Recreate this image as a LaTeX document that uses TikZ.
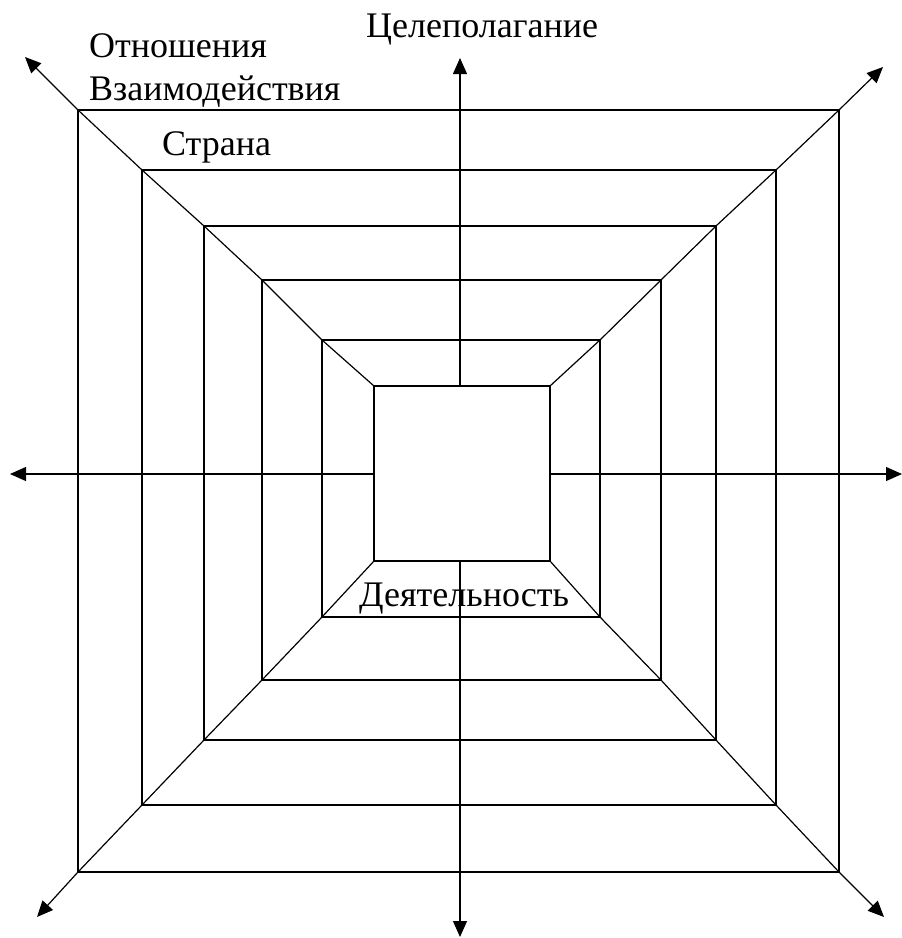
\documentclass[tikz,border=0pt]{standalone}
\usepackage{fontspec}
\setmainfont{Liberation Serif}
\usetikzlibrary{arrows.meta}
\begin{document}
\begin{tikzpicture}[x=1pt,y=-1pt,
  frame/.style={draw=black,line width=1.2pt},
  axis/.style={draw=black,line width=1.2pt,-{Triangle[length=16pt,width=14pt]}},
  lbl/.style={anchor=base west,inner sep=0pt,font=\fontsize{36}{40}\selectfont}]
\useasboundingbox (0,0) rectangle (902,938);
% rectangles: left, top, right, bottom
\foreach \i/\l/\t/\r/\b in {1/78/110/839/872, 2/142/170/776/805, 3/204/226/716/740,
                            4/262/280/661/680, 5/322/340/600/617, 6/374/386/550/561}{
  \coordinate (tl\i) at (\l,\t);
  \coordinate (tr\i) at (\r,\t);
  \coordinate (bl\i) at (\l,\b);
  \coordinate (br\i) at (\r,\b);
  \draw[frame] (tl\i) rectangle (br\i);
}
% diagonals through corners
\draw[frame] (tl1) -- (tl2) -- (tl3) -- (tl4) -- (tl5) -- (tl6);
\draw[frame] (tr1) -- (tr2) -- (tr3) -- (tr4) -- (tr5) -- (tr6);
\draw[frame] (bl1) -- (bl2) -- (bl3) -- (bl4) -- (bl5) -- (bl6);
\draw[frame] (br1) -- (br2) -- (br3) -- (br4) -- (br5) -- (br6);
% arrow tips
\coordinate (aUL) at (25,57);
\coordinate (aUR) at (883,67);
\coordinate (aLL) at (37,917);
\coordinate (aLR) at (884,917);
\coordinate (aT) at (460,58);
\coordinate (aB) at (460,937);
\coordinate (aL) at (10,474);
\coordinate (aR) at (902,474);
\coordinate (cT) at (460,386);
\coordinate (cB) at (460,561);
\coordinate (cL) at (374,474);
\coordinate (cR) at (550,474);
\draw[axis] (tl1) -- (aUL);
\draw[axis] (tr1) -- (aUR);
\draw[axis] (bl1) -- (aLL);
\draw[axis] (br1) -- (aLR);
\draw[axis] (cT) -- (aT);
\draw[axis] (cB) -- (aB);
\draw[axis] (cL) -- (aL);
\draw[axis] (cR) -- (aR);
% labels
\node[lbl] (celi) at (366,37) {Целеполагание};
\node[lbl] (otn) at (89,57) {Отношения};
\node[lbl] (vzm) at (89,100) {Взаимодействия};
\node[lbl] (str) at (162,155) {Страна};
\node[lbl] (deyat) at (359,606) {Деятельность};
\end{tikzpicture}
\end{document}
